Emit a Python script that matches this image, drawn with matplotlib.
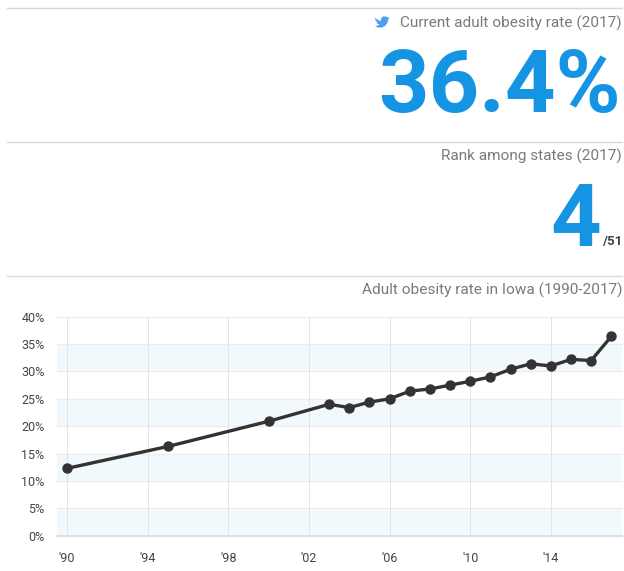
import numpy as np
import matplotlib
matplotlib.use('Agg')
import matplotlib.pyplot as plt
from matplotlib.lines import Line2D
from matplotlib.patches import Polygon

plt.rcParams['font.family'] = ['Roboto', 'DejaVu Sans']

W, H = 624, 571

years = [1990, 1995, 2000, 2003, 2004, 2005, 2006, 2007, 2008, 2009, 2010, 2011, 2012, 2013, 2014, 2015, 2016, 2017]
rates = [12.3, 16.3, 20.9, 24.0, 23.4, 24.4, 25.0, 26.4, 26.8, 27.5, 28.2, 29.0, 30.4, 31.4, 31.0, 32.2, 32.0, 36.4]
x_ticks = [1990, 1994, 1998, 2002, 2006, 2010, 2014]
x_labels = ["'90", "'94", "'98", "'02", "'06", "'10", "'14"]
y_ticks = [0, 5, 10, 15, 20, 25, 30, 35, 40]
y_labels = ['0%', '5%', '10%', '15%', '20%', '25%', '30%', '35%', '40%']
bands = [(0, 5), (10, 15), (20, 25), (30, 35)]

headline = '36.4%'
rank = '4'
rank_total = '/51'
title_rate = 'Current adult obesity rate (2017)'
title_rank = 'Rank among states (2017)'
title_chart = 'Adult obesity rate in Iowa (1990-2017)'

BLUE = '#1694e4'
GREY = '#7a7a7a'
DARK = '#333333'


def fx(px):
    return px / W


def fy(py):
    return 1 - py / H


fig = plt.figure(figsize=(W / 100, H / 100), dpi=100, facecolor='white')

# rules between the blocks
for py in [8, 141.5, 276]:
    fig.add_artist(Line2D([fx(7), fx(622)], [fy(py), fy(py)], color='#d9d9d9', lw=1.0))

fig.text(fx(622), fy(23), title_rate, ha='right', va='center', fontsize=11.1, color=GREY)
fig.text(fx(622), fy(156), title_rank, ha='right', va='center', fontsize=11.1, color=GREY)
fig.text(fx(622), fy(290), title_chart, ha='right', va='center', fontsize=11.1, color=GREY)

fig.text(fx(621), fy(112), headline, ha='right', va='baseline', fontsize=63.5, fontweight='bold', color=BLUE)
fig.text(fx(601.5), fy(246), rank, ha='right', va='baseline', fontsize=63.5, fontweight='bold', color=BLUE)
fig.text(fx(622), fy(245.5), rank_total, ha='right', va='baseline', fontsize=9.5, fontweight='bold', color='#444444')

# twitter bird, rough outline
bird = [(375, 18), (378, 20), (381, 21), (381, 18.5), (383, 16.5), (386, 16.5), (387.5, 17.5),
        (389, 17), (388.5, 18.5), (389.5, 18.2), (388, 20), (387.5, 23), (385, 26), (382, 27.5),
        (378, 27.5), (375, 26), (378, 25.5), (379.5, 24.5), (377, 23.5), (376.5, 22.5), (377.5, 22.3),
        (375.5, 20.5)]
fig.add_artist(Polygon([(fx(a), fy(b)) for a, b in bird], closed=True, transform=fig.transFigure,
                       facecolor='#4f9ef0', edgecolor='none'))

# chart
left, right, top, bottom = 57, 622, 316.7, 535.7
ax = fig.add_axes([fx(left), fy(bottom), fx(right - left), (bottom - top) / H])
ax.set_xlim(1989.5, 2017.53)
ax.set_ylim(0, 40)
ax.set_facecolor('white')

for lo, hi in bands:
    ax.axhspan(lo, hi, facecolor='#f2f9fd', edgecolor='none', zorder=0)
for v in y_ticks:
    ax.axhline(v, color='#ececec', lw=0.9, zorder=1, clip_on=False)
ax.axhline(0, color='#e0e0e0', lw=1.6, zorder=1, clip_on=False)
for v in x_ticks:
    ax.axvline(v, color='#e2e5e7', lw=0.7, zorder=1)

ax.plot(years, rates, color=DARK, lw=2.4, marker='o', ms=6.5, mfc=DARK, mec=DARK, zorder=3, clip_on=False)

for s in ax.spines.values():
    s.set_visible(False)
ax.set_xticks(x_ticks, x_labels)
ax.set_yticks(y_ticks, y_labels)
ax.tick_params(axis='both', length=0, labelsize=9, labelcolor='#444444')
ax.tick_params(axis='x', pad=12)
ax.tick_params(axis='y', pad=9)

fig.savefig('out.png', dpi=100, facecolor='white')
